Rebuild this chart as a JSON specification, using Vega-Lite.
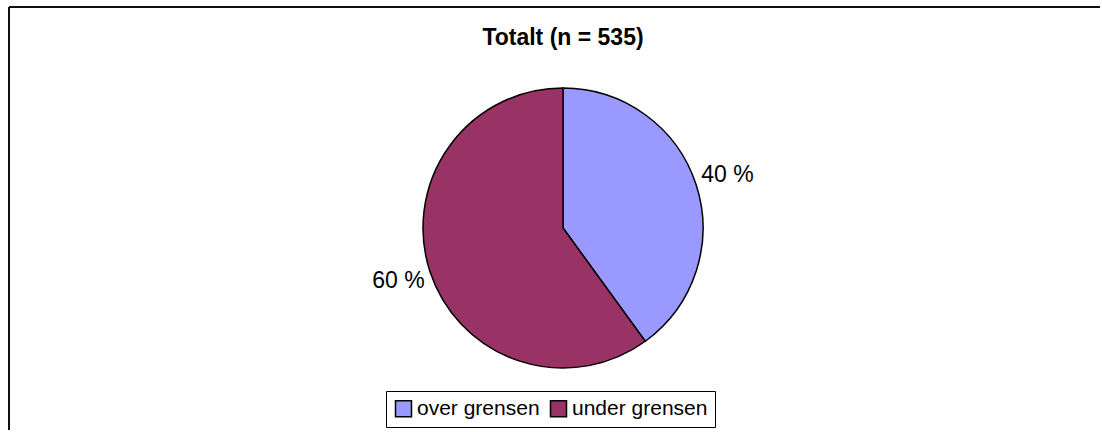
{
  "$schema": "https://vega.github.io/schema/vega-lite/v6.json",
  "width": 1102,
  "height": 432,
  "autosize": {"type": "fit", "contains": "padding"},
  "padding": {"left": 8, "top": 6, "right": -16, "bottom": -18},
  "background": "white",
  "config": {"view": {"stroke": null}, "font": "Liberation Sans"},
  "title": {"text": "Totalt (n = 535)", "fontSize": 23, "fontWeight": "bold", "font": "Liberation Sans", "color": "black", "anchor": "middle", "frame": "group", "offset": -60, "dy": 2, "baseline": "alphabetic"},
  "data": {"values": [
    {"category": "over grensen", "value": 40, "label": "40 %"},
    {"category": "under grensen", "value": 60, "label": "60 %"}
  ]},
  "layer": [
    {
      "mark": {"type": "rule", "stroke": "black", "strokeWidth": 1.5},
      "encoding": {
        "x": {"value": 1},
        "y": {"value": 1},
        "y2": {"value": {"expr": "height - 20"}}
      }
    },
    {
      "mark": {"type": "rule", "stroke": "black", "strokeWidth": 1.5},
      "encoding": {
        "x": {"value": 1},
        "x2": {"value": {"expr": "width - 18"}},
        "y": {"value": 1}
      }
    },
    {
      "mark": {"type": "arc", "outerRadius": 140, "stroke": "black", "strokeWidth": 1.5},
      "encoding": {
        "theta": {"field": "value", "type": "quantitative", "stack": true},
        "order": {"field": "category", "type": "nominal"},
        "color": {
          "field": "category", "type": "nominal",
          "scale": {"domain": ["over grensen", "under grensen"], "range": ["#9999FF", "#993366"]},
          "legend": {
            "title": null, "orient": "none", "legendX": 378, "legendY": 385, "direction": "horizontal",
            "strokeColor": "black", "fillColor": "white", "padding": 7,
            "labelFontSize": 21, "labelFont": "Liberation Sans", "labelColor": "black",
            "symbolType": "square", "symbolSize": 256, "symbolStrokeColor": "black", "symbolStrokeWidth": 1.5,
            "labelOffset": 3, "columnPadding": 7
          }
        }
      }
    },
    {
      "mark": {"type": "text", "radius": 173, "fontSize": 23, "font": "Liberation Sans", "fill": "black", "baseline": "middle", "align": "center"},
      "encoding": {
        "theta": {"field": "value", "type": "quantitative", "stack": true},
        "order": {"field": "category", "type": "nominal"},
        "text": {"field": "label"},
        "detail": {"field": "category"}
      }
    }
  ]
}
